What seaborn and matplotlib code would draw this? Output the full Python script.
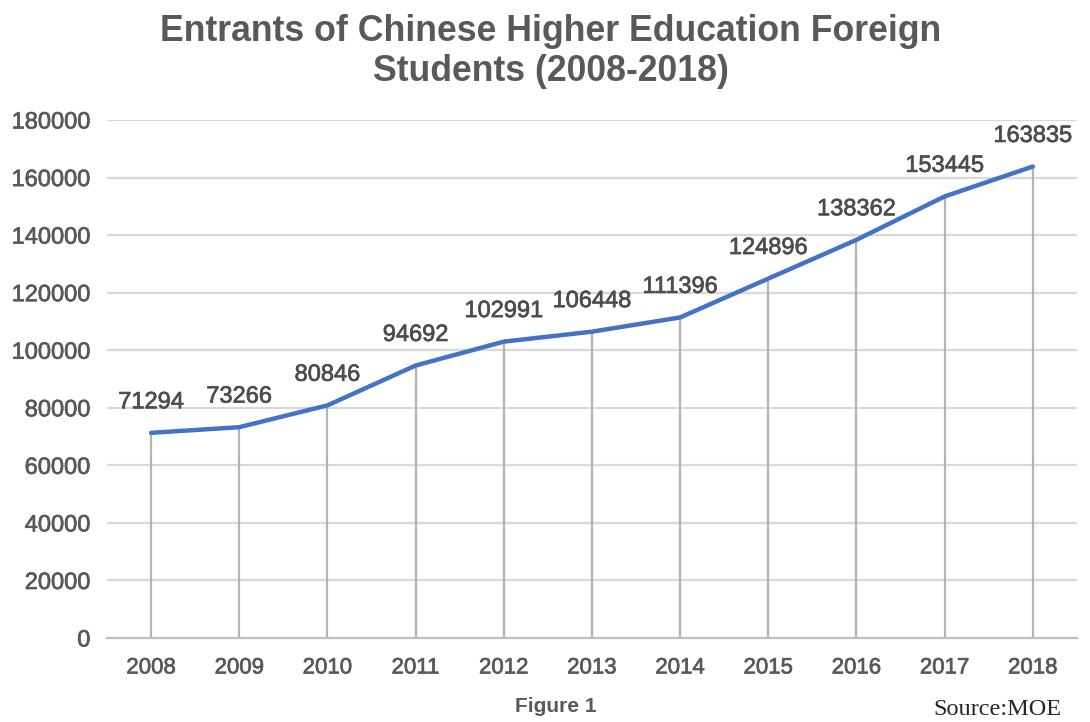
import matplotlib
matplotlib.use('Agg')
import matplotlib.pyplot as plt
import matplotlib.patheffects as pe
import seaborn as sns
import pandas as pd
import numpy as np

# values
years = ['2008', '2009', '2010', '2011', '2012', '2013', '2014', '2015', '2016', '2017', '2018']
entrants = [71294, 73266, 80846, 94692, 102991, 106448, 111396, 124896, 138362, 153445, 163835]
yticks = [0, 20000, 40000, 60000, 80000, 100000, 120000, 140000, 160000, 180000]

df = pd.DataFrame({'year': years, 'entrants': entrants})
df['pos'] = np.arange(len(df))

sns.set_style('white')
plt.rcParams['font.family'] = ['Liberation Sans', 'DejaVu Sans']

grey = '#595959'
thick = [pe.withStroke(linewidth=0.5, foreground=grey)]
fig = plt.figure(figsize=(10.9, 7.22), dpi=100)
ax = fig.add_axes([0.0982, 0.1163, 0.8898, 0.7175])

# horizontal grid
for v in yticks[1:]:
    ax.axhline(v, color='#d9d9d9', lw=1.6, zorder=0)

# drop lines from each point to the axis
ax.vlines(df['pos'], 0, df['entrants'], color='#b3b3b3', lw=1.6, zorder=1)

sns.lineplot(data=df, x='pos', y='entrants', color='#4472c4', lw=3.2, ax=ax, zorder=3)

for p, v in zip(df['pos'], df['entrants']):
    ax.annotate(f'{v}', (p, v), xytext=(0, 22), textcoords='offset points',
                ha='center', va='center', fontsize=17, color='#4d4d4d',
                path_effects=[pe.withStroke(linewidth=0.5, foreground='#4d4d4d')])

ax.set_xlim(-0.5, len(df) - 0.5)
ax.set_ylim(0, 180000)
ax.set_yticks(yticks)
ax.set_yticklabels([str(v) for v in yticks])
ax.set_xticks(df['pos'])
ax.set_xticklabels(years)
ax.set_xticks(np.arange(-0.5, len(df)), minor=True)
ax.tick_params(axis='y', length=0, pad=12, labelsize=17, labelcolor=grey)
ax.tick_params(axis='x', which='major', length=0, pad=14, labelsize=16, labelcolor=grey)
ax.tick_params(axis='x', which='minor', length=7, width=1.2, color='#bfbfbf', direction='out')
for t in ax.get_yticklabels() + ax.get_xticklabels():
    t.set_path_effects(thick)
ax.set_xlabel('')
ax.set_ylabel('')

for s in ['top', 'right', 'left']:
    ax.spines[s].set_visible(False)
ax.spines['bottom'].set_color('#bfbfbf')
ax.spines['bottom'].set_linewidth(1.6)

fig.text(0.505, 0.929, 'Entrants of Chinese Higher Education Foreign\nStudents (2008-2018)',
         ha='center', va='center', fontsize=25.7, fontweight='bold', color=grey, linespacing=1.18)
fig.text(0.51, 0.022, 'Figure 1', ha='center', va='center', fontsize=15, fontweight='bold', color=grey)
fig.text(0.974, 0.017, 'Source:MOE', ha='right', va='center', fontsize=17.5,
         family=['Liberation Serif', 'DejaVu Serif'], color='#262626')

fig.savefig('out.png', dpi=100)
